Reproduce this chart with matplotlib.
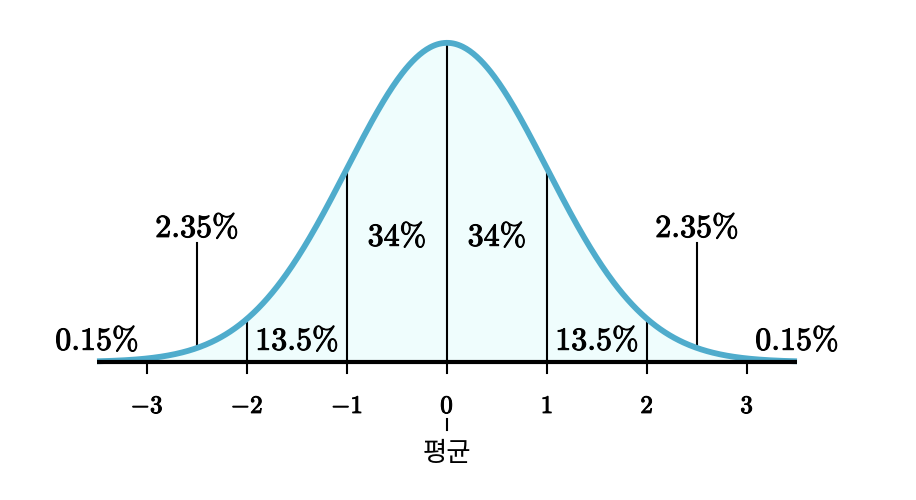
import numpy as np
import matplotlib.pyplot as plt
import matplotlib.patheffects as pe

plt.rcParams['mathtext.fontset'] = 'cm'

# data
x_ticks = [-3, -2, -1, 0, 1, 2, 3]
tick_labels = [r'$\mathbf{-3}$', r'$\mathbf{-2}$', r'$\mathbf{-1}$', r'$\mathbf{0}$',
               r'$\mathbf{1}$', r'$\mathbf{2}$', r'$\mathbf{3}$']
band_x = [-3.5, -2.5, -1.5, -0.5, 0.5, 1.5, 2.5, 3.5]
band_labels = ['0.15%', '2.35%', '13.5%', '34%', '34%', '13.5%', '2.35%', '0.15%']
band_label_y = [0.026, 0.167, 0.026, 0.156, 0.156, 0.026, 0.167, 0.026]
mean_label = '평균'

def pdf(v):
    return np.exp(-v**2 / 2) / np.sqrt(2 * np.pi)

fig = plt.figure(figsize=(9.16, 5), dpi=100)
ax = fig.add_axes([0, 0, 1, 1])
ax.set_xlim(-4.47, 4.69)
ax.set_ylim(-0.1725, 0.4525)
ax.axis('off')

bold = [pe.withStroke(linewidth=0.7, foreground='black')]

xs = np.linspace(-3.5, 3.5, 600)
ax.fill_between(xs, 0, pdf(xs), color='#effdfd', zorder=1)
ax.plot(xs, pdf(xs), color='#4faccc', lw=4.2, solid_capstyle='butt', zorder=3)
ax.plot([-3.5, 3.5], [0, 0], color='black', lw=3, solid_capstyle='butt', zorder=4)

# vertical separators and ticks
for t in x_ticks:
    top = pdf(t) if abs(t) < 3 else 0.0
    ax.plot([t, t], [-0.014, top], color='black', lw=1.5, zorder=2)
for t in [-2.5, 2.5]:
    ax.plot([t, t], [pdf(t), 0.149], color='black', lw=1.5, zorder=2)

for t, lab in zip(x_ticks, tick_labels):
    ax.text(t, -0.055, lab, ha='center', va='center', fontsize=18, path_effects=bold)

# mean marker
ax.plot([0, 0], [-0.071, -0.085], color='black', lw=1.5)
ax.text(0, -0.114, mean_label, ha='center', va='center', fontsize=19,
        family=['Noto Sans CJK KR', 'DejaVu Sans'])

for bx, lab, by in zip(band_x, band_labels, band_label_y):
    s = lab.replace('%', r'\%')
    ax.text(bx, by, r'$\mathbf{' + s + '}$', ha='center', va='center', fontsize=23,
            path_effects=bold)

fig.savefig('out.png', dpi=100)
